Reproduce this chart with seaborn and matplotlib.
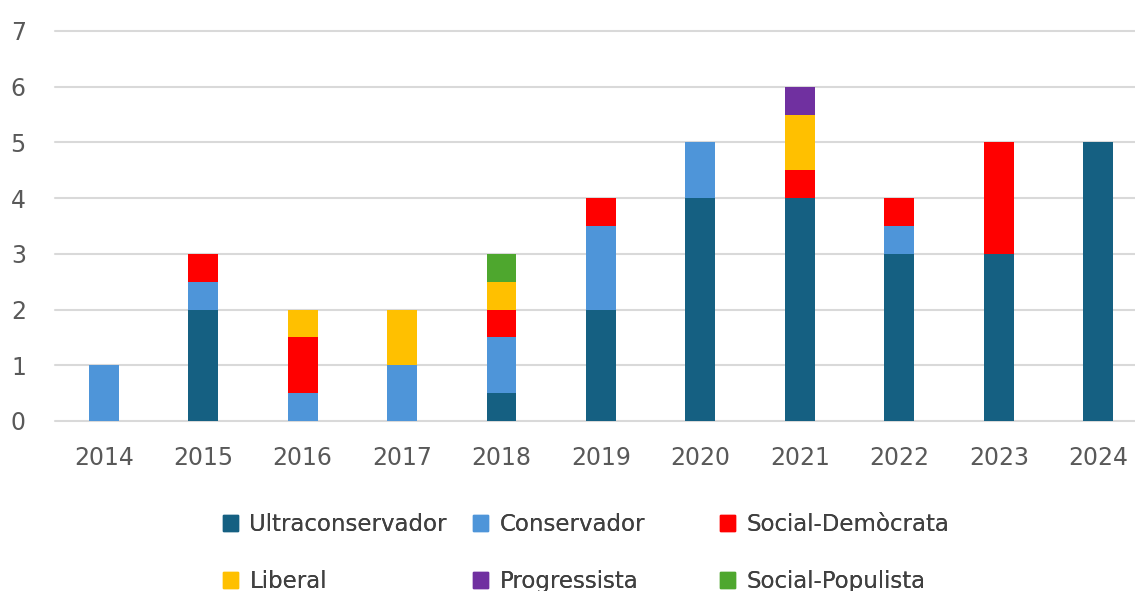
import numpy as np
import pandas as pd
import seaborn as sns
import matplotlib.pyplot as plt
from matplotlib.patches import Patch

# dades llegides del grafic
anys = ['2014', '2015', '2016', '2017', '2018', '2019', '2020', '2021', '2022', '2023', '2024']
ultraconservador = [0, 2, 0, 0, 0.5, 2, 4, 4, 3, 3, 5]
conservador = [1, 0.5, 0.5, 1, 1, 1.5, 1, 0, 0.5, 0, 0]
social_democrata = [0, 0.5, 1, 0, 0.5, 0.5, 0, 0.5, 0.5, 2, 0]
liberal = [0, 0, 0.5, 1, 0.5, 0, 0, 1, 0, 0, 0]
progressista = [0, 0, 0, 0, 0, 0, 0, 0.5, 0, 0, 0]
social_populista = [0, 0, 0, 0, 0.5, 0, 0, 0, 0, 0, 0]

categories = ['Ultraconservador', 'Conservador', 'Social-Demòcrata', 'Liberal', 'Progressista', 'Social-Populista']
colors = ['#156082', '#4E95D9', '#FF0000', '#FFC000', '#7030A0', '#4EA72E']

df = pd.DataFrame({'any': anys,
                   'Ultraconservador': ultraconservador,
                   'Conservador': conservador,
                   'Social-Demòcrata': social_democrata,
                   'Liberal': liberal,
                   'Progressista': progressista,
                   'Social-Populista': social_populista})

# acumulats per fer les barres apilades (es dibuixen de dalt a baix)
cum = df[categories].cumsum(axis=1)
cum['any'] = df['any']

sns.set_style('white')
plt.rcParams['font.family'] = ['DejaVu Sans']

fig = plt.figure(figsize=(11.35, 5.91), dpi=100)
ax = fig.add_axes([55/1135, (591-421)/591, 1 - 55/1135, (421-31)/591])

for cat, col in reversed(list(zip(categories, colors))):
    sns.barplot(data=cum, x='any', y=cat, color=col, width=0.3, saturation=1,
                linewidth=0, ax=ax, zorder=3)

ax.set_ylim(0, 7)
ax.set_xlim(-0.49, 10.37)
ax.set_yticks(range(0, 8))
ax.yaxis.grid(True, color='#D9D9D9', linewidth=1.5, zorder=0)
for gl in ax.get_ygridlines():
    gl.set_clip_on(False)
ax.set_axisbelow(True)
for s in ax.spines.values():
    s.set_visible(False)
ax.set_xlabel('')
ax.set_ylabel('')
ax.tick_params(axis='y', length=0, pad=21, labelsize=17, labelcolor='#595959')
ax.tick_params(axis='x', length=0, pad=18, labelsize=17, labelcolor='#595959')

# llegenda en tres columnes com l'original
cols_x = [223, 473, 720]
pairs = [(0, 3), (1, 4), (2, 5)]
for x, (a, b) in zip(cols_x, pairs):
    handles = [Patch(color=colors[a], label=categories[a]),
               Patch(color=colors[b], label=categories[b])]
    leg = fig.legend(handles=handles, loc='center left',
                     bbox_to_anchor=(x/1135, 1 - 553/591), frameon=False,
                     fontsize=16.5, handlelength=0.65, handleheight=0.65,
                     handletextpad=0.5, labelspacing=1.48, borderpad=0,
                     borderaxespad=0, labelcolor='#404040')
    fig.add_artist(leg)

fig.savefig('out.png', dpi=100)
